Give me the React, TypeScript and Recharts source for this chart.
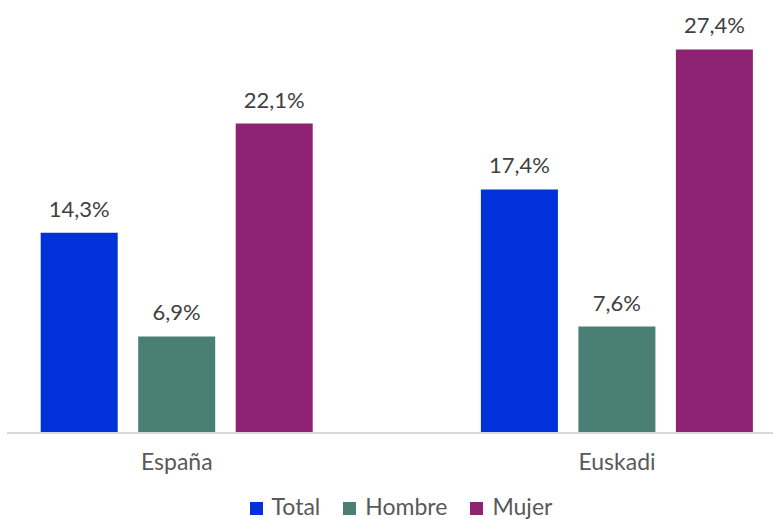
import { BarChart, Bar, XAxis, YAxis, Legend, LabelList } from "recharts"

const regions = ["España", "Euskadi"]
const totalValues = [14.3, 17.4]
const hombreValues = [6.9, 7.6]
const mujerValues = [22.1, 27.4]

const seriesNames = ["Total", "Hombre", "Mujer"]
const seriesColors = ["#0131d8", "#4a8074", "#8e2273"]

const data = regions.map((region, i) => ({
  region,
  Total: totalValues[i],
  Hombre: hombreValues[i],
  Mujer: mujerValues[i],
}))

const FONT = "Lato, 'Open Sans', sans-serif"

const formatPct = (v: number) => `${v.toFixed(1).replace(".", ",")}%`

function CustomLegend() {
  return (
    <div
      style={{
        textAlign: "center",
        height: 30,
        paddingLeft: 29,
        paddingTop: 4,
        boxSizing: "border-box",
        fontFamily: FONT,
        fontSize: 23,
        lineHeight: "27px",
        color: "#595959",
        whiteSpace: "nowrap",
      }}
    >
      {seriesNames.map((name, i) => (
        <span key={name} style={{ marginRight: i < seriesNames.length - 1 ? 23 : 0 }}>
          <span
            style={{
              display: "inline-block",
              width: 13,
              height: 13,
              background: seriesColors[i],
              marginRight: 9,
            }}
          />
          {name}
        </span>
      ))}
    </div>
  )
}

export default function App() {
  return (
    <div
      style={{
        position: "absolute",
        top: 0,
        left: 0,
        width: 773,
        height: 519,
        background: "#fff",
        overflow: "hidden",
      }}
    >
      <BarChart
        width={773}
        height={519}
        data={data}
        margin={{ top: 13, right: 0, bottom: 0, left: 7 }}
        barSize={77}
        barGap={20.5}
      >
        <XAxis
          dataKey="region"
          axisLine={{ stroke: "#d9d9d9", strokeWidth: 2 }}
          tickLine={false}
          tickMargin={15}
          height={56}
          padding={{ left: -50.3, right: -64.1 }}
          tick={{ fill: "#595959", fontSize: 23, fontFamily: FONT }}
        />
        <YAxis hide domain={[0, 30]} />
        <Legend
          verticalAlign="bottom"
          content={<CustomLegend />}
          wrapperStyle={{ left: 0, top: 489, bottom: "auto", width: 773, height: 30 }}
        />
        {seriesNames.map((name, i) => (
          <Bar key={name} dataKey={name} fill={seriesColors[i]} isAnimationActive={false}>
            <LabelList
              dataKey={name}
              position="top"
              offset={16}
              formatter={(v: number) => formatPct(v)}
              style={{ fill: "#404040", fontSize: 22, fontFamily: FONT }}
            />
          </Bar>
        ))}
      </BarChart>
    </div>
  )
}
